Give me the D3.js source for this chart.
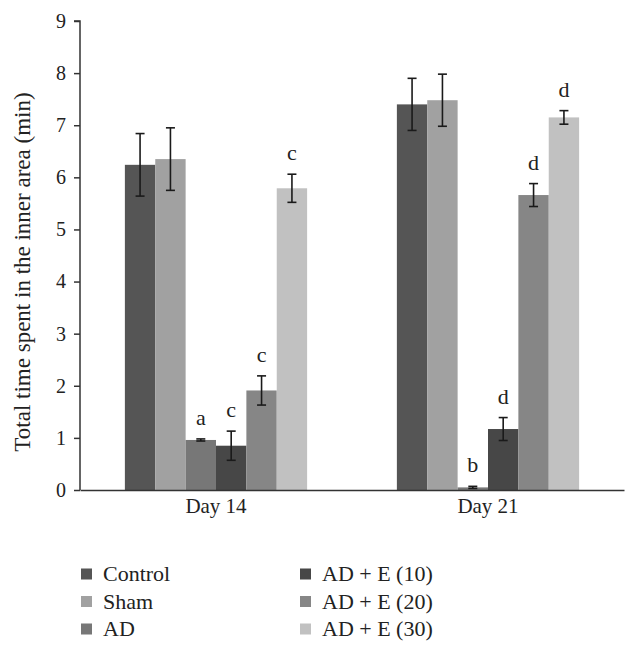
<!DOCTYPE html>
<html><head><meta charset="utf-8">
<script src="https://cdn.jsdelivr.net/npm/d3@7"></script>
<style>body{margin:0;background:#fff}svg{display:block}svg text{font-family:"Liberation Serif","Times New Roman",serif !important;fill:#222}</style>
</head><body><svg id="c" width="638" height="649"></svg>
<script>
const days = ["Day 14", "Day 21"];
const groups = ["Control", "Sham", "AD", "AD + E (10)", "AD + E (20)", "AD + E (30)"];
const colors = ["#555555", "#a1a1a1", "#777777", "#474747", "#868686", "#c1c1c1"];
const means = {
  "Day 14": [6.24, 6.35, 0.96, 0.85, 1.91, 5.79],
  "Day 21": [7.40, 7.48, 0.05, 1.17, 5.66, 7.15]
};
const errs = {
  "Day 14": [0.60, 0.60, 0.02, 0.28, 0.28, 0.27],
  "Day 21": [0.50, 0.50, 0.02, 0.22, 0.22, 0.13]
};
const letters = {
  "Day 14": ["", "", "a", "c", "c", "c"],
  "Day 21": ["", "", "b", "d", "d", "d"]
};
const yTicks = [0,1,2,3,4,5,6,7,8,9];

const FONT = '"Liberation Serif", "Times New Roman", serif';
const svg = d3.select("#c");
const x0 = d3.scaleBand().domain(days).range([80, 624]).paddingInner(0.33).paddingOuter(0.165);
const x1 = d3.scaleBand().domain(groups).range([0, x0.bandwidth()]);
const y = d3.scaleLinear().domain([0, 9]).range([490, 21]);
const color = d3.scaleOrdinal().domain(groups).range(colors);

const rows = days.flatMap(d => groups.map((g, i) => ({day: d, g, v: means[d][i], e: errs[d][i], l: letters[d][i]})));

svg.append("g").selectAll("rect").data(rows).join("rect")
  .attr("x", d => x0(d.day) + x1(d.g))
  .attr("y", d => y(d.v))
  .attr("width", x1.bandwidth())
  .attr("height", d => y(0) - y(d.v))
  .attr("fill", d => color(d.g));

const eb = svg.append("g").attr("stroke", "#1a1a1a").attr("stroke-width", 1.6);
rows.forEach(d => {
  const cx = x0(d.day) + x1(d.g) + x1.bandwidth() / 2;
  const t = y(d.v + d.e), b = y(d.v - d.e);
  eb.append("line").attr("x1", cx).attr("x2", cx).attr("y1", t).attr("y2", b);
  eb.append("line").attr("x1", cx - 4.5).attr("x2", cx + 4.5).attr("y1", t).attr("y2", t);
  eb.append("line").attr("x1", cx - 4.5).attr("x2", cx + 4.5).attr("y1", b).attr("y2", b);
  if (d.l) svg.append("text").attr("x", cx).attr("y", t - 14).attr("text-anchor", "middle")
    .style("font-family", FONT).attr("font-size", 22).text(d.l);
});

const ya = svg.append("g").attr("transform", "translate(80,0)").attr("font-family", null)
  .call(d3.axisLeft(y).tickValues(yTicks).tickSize(6).tickPadding(8).tickFormat(d3.format("d")));
ya.attr("font-family", null);
ya.select(".domain").attr("d", `M-6,${y(9)}H0V${y(0)}`).attr("stroke", "#333").attr("stroke-width", 1.5);
ya.selectAll(".tick line").attr("stroke", "#333").attr("stroke-width", 1.5);
ya.selectAll(".tick text").style("font-family", FONT).style("font-size", "20px").attr("fill", "#222");

const xa = svg.append("g").attr("transform", `translate(0,${y(0)})`)
  .call(d3.axisBottom(x0).tickSize(0).tickPadding(8));
xa.attr("font-family", null);
xa.select(".domain").attr("stroke", "#333").attr("stroke-width", 1.5);
xa.selectAll(".tick text").style("font-family", FONT).style("font-size", "21px").attr("fill", "#222").attr("dy", "0.71em");

svg.append("text").attr("transform", "translate(30,272) rotate(-90)")
  .attr("text-anchor", "middle").style("font-family", FONT).style("font-size", "23px")
  .text("Total time spent in the inner area (min)");

const legX = [81, 300], legY = [574, 601.5, 629];
const leg = svg.append("g").selectAll("g").data(groups).join("g")
  .attr("transform", (d, i) => `translate(${legX[Math.floor(i / 3)]},${legY[i % 3]})`);
leg.append("rect").attr("x", 0).attr("y", -5.5).attr("width", 11).attr("height", 11).attr("fill", d => color(d));
leg.append("text").attr("x", 22).attr("y", 7).style("font-family", FONT).style("font-size", "22px").text(d => d);
</script></body></html>
